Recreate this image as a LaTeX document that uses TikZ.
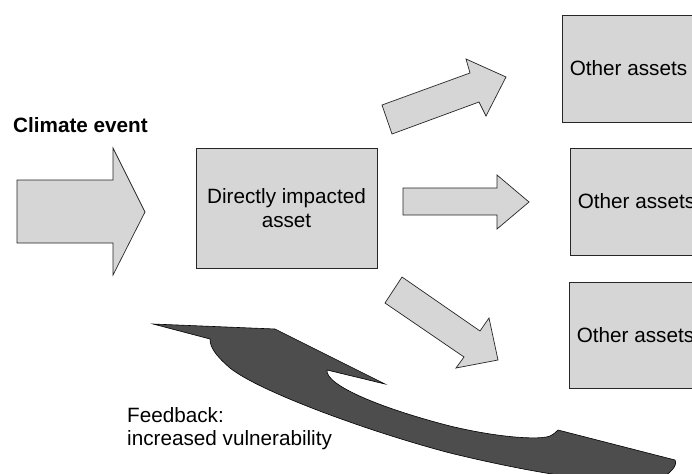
\documentclass[tikz,border=0pt]{standalone}
\usepackage{fontspec}
\setmainfont{Liberation Sans}
\definecolor{lightfill}{RGB}{214,214,214}
\definecolor{darkfill}{RGB}{77,77,77}
\tikzset{
  txt/.style={font=\fontsize{20.7pt}{23.5pt}\selectfont, inner sep=0pt},
  assetbox/.style={txt, draw=black!85, line width=0.8pt, fill=lightfill, align=center},
  fatarrow/.style={draw=black!85, line width=0.7pt, fill=lightfill, line join=miter},
  feedarrow/.style={draw=black, line width=0.6pt, fill=darkfill}
}
\begin{document}
\begin{tikzpicture}[x=1pt,y=-1pt]
\clip (0,0) rectangle (692,473);
\fill[white] (0,0) rectangle (692,473);

% boxes
\node[assetbox, minimum width=181pt, minimum height=120pt] (direct) at (286.5,208) {Directly impacted\\asset};
\node[assetbox, minimum width=133pt, minimum height=107pt] (otherA) at (628.5,68.5) {Other assets};
\node[assetbox, minimum width=133pt, minimum height=107pt] (otherB) at (636.5,201.5) {Other assets};
\node[assetbox, minimum width=133pt, minimum height=106pt] (otherC) at (635.5,335) {Other assets};

% climate event arrow
\draw[fatarrow] (17,180) -- (113,180) -- (113,148) -- (145,212) -- (113,275) -- (113,243) -- (17,243) -- cycle;
\node[txt, font=\fontsize{20.7pt}{23.5pt}\selectfont\bfseries, anchor=base west] (climate) at (13,133) {Climate event};

% three outgoing arrows
\draw[fatarrow] (382,105) -- (470,73) -- (466,59) -- (506,77) -- (486,116) -- (479,102) -- (392,134) -- cycle;
\draw[fatarrow] (403,188) -- (497,188) -- (497,175) -- (529,202) -- (497,229) -- (497,215) -- (403,215) -- cycle;
\draw[fatarrow] (402,277) -- (480,331) -- (489,318) -- (498,360) -- (456,368) -- (464,357) -- (385,303) -- cycle;

% feedback arrow
\draw[feedarrow] (210,339) -- (153,324) -- (275,329) -- (385,384) -- (327,370)
  .. controls (325,385) and (380,408) .. (450,426)
  .. controls (500,438) and (540,440) .. (550,436)
  .. controls (554,434) and (556,432) .. (558,430)
  -- (675,460)
  .. controls (678,466) and (670,474) .. (655,482)
  .. controls (600,485) and (520,470) .. (450,453)
  .. controls (370,432) and (260,392) .. (230,368)
  .. controls (215,355) and (210,347) .. (210,339) -- cycle;

\node[txt, anchor=base west, align=left] (feedback) at (127,422) {Feedback:};
\node[txt, anchor=base west] (feedback2) at (127,445.5) {increased vulnerability};
\end{tikzpicture}
\end{document}
